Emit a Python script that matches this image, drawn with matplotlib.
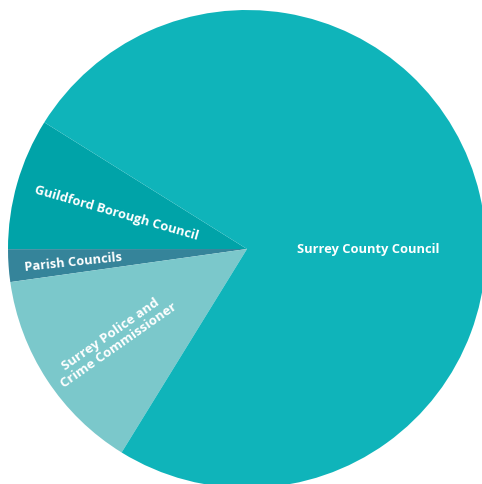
import matplotlib.pyplot as plt

# share of council tax (%)
labels = ['Guildford Borough Council', 'Parish Councils',
          'Surrey Police and\nCrime Commissioner', 'Surrey County Council']
shares = [8.9, 2.2, 14.0, 74.9]
colors = ['#00a3a8', '#35849a', '#7bc8cb', '#0fb4ba']

# label placement (pixel coords, y down), rotation and size
label_pos = [(116, 213), (73, 262), (115, 340), (368, 250)]
label_rot = [-16, 6, 35, 0]
label_size = [9.3, 9.3, 9.6, 9.3]

W, H = 482, 484
fig = plt.figure(figsize=(W / 100, H / 100), dpi=100)
ax = fig.add_axes([0, 0, 1, 1])

cx, cy, r = 247, 249, 239
ax.pie(shares, colors=colors, startangle=148, counterclock=True,
       center=(cx, H - cy), radius=r, frame=True,
       wedgeprops=dict(linewidth=0))
ax.set_xlim(0, W)
ax.set_ylim(0, H)
ax.set_aspect('equal')
ax.axis('off')

for lab, (x, y), rot, fs in zip(labels, label_pos, label_rot, label_size):
    ax.text(x, H - y, lab, color='white', fontsize=fs, fontweight='bold',
            family='Open Sans', ha='center', va='center', rotation=rot,
            rotation_mode='anchor', linespacing=1.05)

fig.savefig('out.png', dpi=100)
